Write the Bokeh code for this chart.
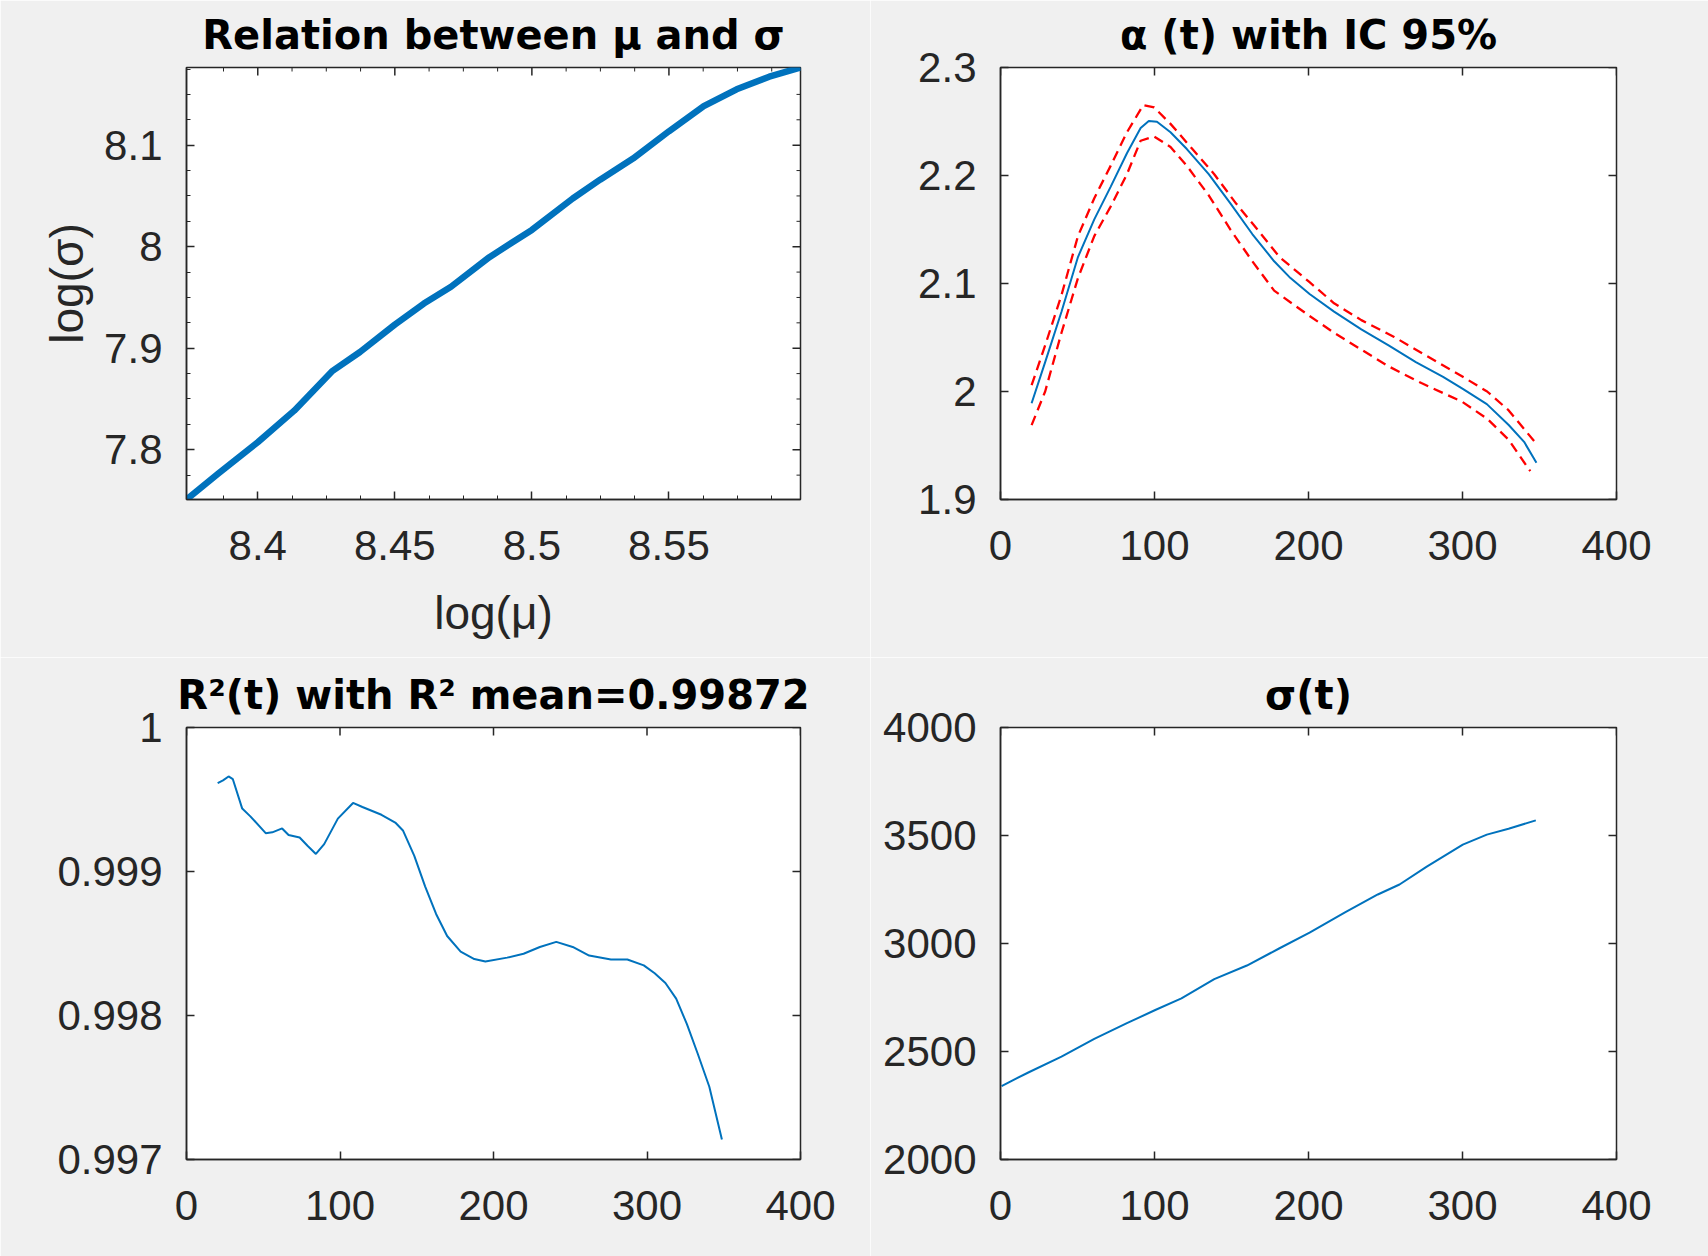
import math
from bokeh.plotting import figure
from bokeh.models import Range1d, FixedTicker
from bokeh.layouts import column, row
from bokeh.embed import file_html
from bokeh.resources import INLINE

FONT = "Liberation Sans"
TITLE_FONT = "DejaVu Sans"
BLUE = "#0072BD"
RED = "#FF0000"
BG = "#F0F0F0"
AX = "#262626"

# ---------------- data ----------------
# Panel 1: log(mu) vs log(sigma)
log_mu = [8.374, 8.3855, 8.4, 8.4133, 8.4273, 8.4373, 8.45, 8.4606, 8.4705, 8.4845,
          8.5, 8.5149, 8.5249, 8.5369, 8.55, 8.5627, 8.5747, 8.5866, 8.598]
log_sigma = [7.751, 7.7764, 7.8074, 7.8385, 7.8777, 7.8963, 7.9232, 7.944, 7.9605, 7.9897,
             8.0165, 8.0475, 8.066, 8.0868, 8.1137, 8.1385, 8.155, 8.1674, 8.1765]
p1_xticks = [8.4, 8.45, 8.5, 8.55]
p1_xlabels = ["8.4", "8.45", "8.5", "8.55"]
p1_yticks = [7.8, 7.9, 8.0, 8.1]
p1_ylabels = ["7.8", "7.9", "8", "8.1"]
p1_xminor = [8.3875, 8.4125, 8.425, 8.4375, 8.4625, 8.475, 8.4875, 8.5125, 8.525,
             8.5375, 8.5625, 8.575, 8.5875]
p1_yminor = [7.775, 7.825, 7.85, 7.875, 7.925, 7.95, 7.975, 8.025, 8.05, 8.075,
             8.125, 8.15, 8.175]

# Panel 2: alpha(t) with 95% CI
t_alpha = [20.2, 29, 39.6, 50.3, 60.9, 71.5, 82.1, 91, 96.3, 101.6, 110.4, 121, 135.2,
           149.4, 163.5, 177.7, 188.3, 200.7, 216.6, 234.3, 252, 269.7, 287.4, 300.2,
           315.8, 330, 340, 348]
alpha_mid = [1.9891, 2.0272, 2.0738, 2.1245, 2.1594, 2.1895, 2.2206, 2.2439, 2.2505, 2.2497,
             2.24, 2.2245, 2.2012, 2.174, 2.1458, 2.1206, 2.105, 2.0903, 2.074, 2.0575,
             2.0427, 2.0272, 2.0136, 2.0025, 1.9883, 1.969, 1.9534, 1.934]
t_alpha_up = [20.2, 29, 39.6, 50.3, 60.9, 71.5, 82.1, 92.7, 99.8, 110.4, 124.6, 138.8, 153,
              167, 181.2, 200.7, 216.6, 234.3, 255.6, 276.8, 300.2, 316, 330, 348]
alpha_up = [2.0058, 2.0427, 2.0893, 2.1439, 2.179, 2.2089, 2.24, 2.2652, 2.263, 2.2478,
            2.2245, 2.2012, 2.174, 2.1497, 2.1245, 2.1012, 2.0817, 2.0661, 2.0505, 2.033,
            2.0136, 2.0, 1.9825, 1.9515]
t_alpha_lo = [20.2, 29, 39.6, 50.3, 60.9, 71.5, 82.1, 91, 99.8, 110.4, 121, 135.2, 149.4,
              163.5, 177.7, 200.7, 216.6, 234.3, 252, 273.3, 300, 316, 330, 344]
alpha_lo = [1.9689, 2.0, 2.0544, 2.105, 2.1439, 2.1712, 2.2012, 2.2322, 2.2361, 2.2264,
            2.2089, 2.1817, 2.1497, 2.1206, 2.0934, 2.0699, 2.0544, 2.0388, 2.0233, 2.0078,
            1.9903, 1.9748, 1.9553, 1.9262]
p2_yticks = [1.9, 2.0, 2.1, 2.2, 2.3]
p2_ylabels = ["1.9", "2", "2.1", "2.2", "2.3"]

# Panel 3: R^2(t)
t_r2 = [20.3, 23.8, 27.4, 30.2, 36.3, 41.6, 51.6, 55.9, 62.3, 66.5, 73.7, 79, 84.3, 89.7,
        98.6, 108.5, 114.6, 127, 136, 141, 148.4, 155.5, 162.6, 169.8, 178.6, 187.5,
        194.7, 208.9, 219.6, 230.2, 240.9, 251.6, 262.3, 276.5, 287.2, 297.9, 305, 312,
        319, 326, 333, 340.6, 348.8]
r2 = [0.999614, 0.999633, 0.99966, 0.999641, 0.999437, 0.999383, 0.999266, 0.999272,
      0.999299, 0.999253, 0.999236, 0.999177, 0.999122, 0.99919, 0.999367, 0.999476,
      0.999448, 0.999394, 0.99934, 0.999285, 0.999109, 0.998895, 0.998705, 0.998552,
      0.998443, 0.998392, 0.998375, 0.998402, 0.998429, 0.998476, 0.998511, 0.998476,
      0.998416, 0.998389, 0.998389, 0.998348, 0.998293, 0.998226, 0.998117, 0.99794,
      0.997736, 0.997505, 0.997139]
p3_yticks = [0.997, 0.998, 0.999, 1.0]
p3_ylabels = ["0.997", "0.998", "0.999", "1"]

# Panel 4: sigma(t)
t_sigma = [0.7, 18.4, 39.6, 60.9, 82.1, 100.5, 117.5, 138.8, 160, 181.2, 200.7, 223.7,
           245, 259.1, 276.8, 300.2, 315.8, 329.9, 347.6]
sigma = [2340, 2404, 2476, 2558, 2631, 2692, 2746, 2835, 2898, 2978, 3050, 3144, 3227,
         3273, 3356, 3458, 3504, 3531, 3570]
p4_yticks = [2000, 2500, 3000, 3500, 4000]
p4_ylabels = ["2000", "2500", "3000", "3500", "4000"]

t_ticks = [0, 100, 200, 300, 400]
t_labels = ["0", "100", "200", "300", "400"]

# ---------------- helpers ----------------
TICK_FS = "42px"
LABEL_FS = "46px"
TITLE_FS = "40px"


def make_fig(title, xr, yr, fw, fh, bl, br, bt, bb):
    p = figure(x_range=xr, y_range=yr, frame_width=fw, frame_height=fh,
               min_border_left=bl, min_border_right=br, min_border_top=bt,
               min_border_bottom=bb, output_backend="svg", toolbar_location=None,
               title=title)
    p.background_fill_color = "white"
    p.border_fill_color = BG
    p.outline_line_color = AX
    p.outline_line_width = 1.5
    p.grid.visible = False
    p.title.text_font = TITLE_FONT
    p.title.text_font_size = TITLE_FS
    p.title.text_font_style = "bold"
    p.title.text_color = "black"
    p.title.align = "center"
    p.title.standoff = 19
    return p


def style_axes(p, xticks, xlabels, yticks, ylabels, xminor=None, yminor=None,
               minor_in=0):
    p.xaxis[0].ticker = FixedTicker(ticks=xticks, minor_ticks=xminor or [])
    p.yaxis[0].ticker = FixedTicker(ticks=yticks, minor_ticks=yminor or [])
    p.xaxis[0].major_label_overrides = {float(k): v for k, v in zip(xticks, xlabels)}
    p.yaxis[0].major_label_overrides = {float(k): v for k, v in zip(yticks, ylabels)}
    for ax in (p.xaxis[0], p.yaxis[0]):
        ax.axis_line_color = AX
        ax.axis_line_width = 1.5
        ax.major_tick_in = 8
        ax.major_tick_out = 0
        ax.minor_tick_in = minor_in
        ax.minor_tick_out = 0
        ax.major_tick_line_color = AX
        ax.minor_tick_line_color = AX
        ax.major_tick_line_width = 1.5
        ax.major_label_text_font = FONT
        ax.major_label_text_font_size = TICK_FS
        ax.major_label_text_color = AX
        ax.axis_label_text_font = FONT
        ax.axis_label_text_font_size = LABEL_FS
        ax.axis_label_text_font_style = "normal"
        ax.axis_label_text_color = AX
    p.xaxis[0].major_label_standoff = 31
    p.yaxis[0].major_label_standoff = 24
    p.xaxis[0].axis_label_standoff = 24
    p.yaxis[0].axis_label_standoff = 8
    # mirrored ticks on top and right edges (MATLAB "box on")
    x1 = p.x_range.end
    y1 = p.y_range.end
    p.ray(x=xticks, y=[y1] * len(xticks), length=8, length_units="screen",
          angle=-math.pi / 2, line_color=AX, line_width=1.5)
    p.ray(x=[x1] * len(yticks), y=yticks, length=8, length_units="screen",
          angle=math.pi, line_color=AX, line_width=1.5)
    if xminor:
        p.ray(x=xminor, y=[y1] * len(xminor), length=minor_in, length_units="screen",
              angle=-math.pi / 2, line_color=AX, line_width=1)
    if yminor:
        p.ray(x=[x1] * len(yminor), y=yminor, length=minor_in, length_units="screen",
              angle=math.pi, line_color=AX, line_width=1)


# ---------------- panel 1 ----------------
p1 = make_fig("Relation between μ and σ",
              Range1d(min(log_mu), max(log_mu)), Range1d(min(log_sigma), max(log_sigma)),
              614, 432, 186, 70, 67, 158)
p1.xaxis[0].axis_label = "log(μ)"
p1.yaxis[0].axis_label = "log(σ)"
style_axes(p1, p1_xticks, p1_xlabels, p1_yticks, p1_ylabels, p1_xminor, p1_yminor,
           minor_in=4)
p1.line(log_mu, log_sigma, line_color=BLUE, line_width=6.5, line_cap="round",
        line_join="round")

# ---------------- panel 2 ----------------
p2 = make_fig("α (t) with IC 95%", Range1d(0, 400), Range1d(1.9, 2.3),
              616, 432, 130, 92, 67, 158)
style_axes(p2, t_ticks, t_labels, p2_yticks, p2_ylabels)
p2.line(t_alpha, alpha_mid, line_color=BLUE, line_width=2)
p2.line(t_alpha_up, alpha_up, line_color=RED, line_width=2.3, line_dash="10 6")
p2.line(t_alpha_lo, alpha_lo, line_color=RED, line_width=2.3, line_dash="10 6")

# ---------------- panel 3 ----------------
p3 = make_fig("R²(t) with R² mean=0.99872", Range1d(0, 400), Range1d(0.997, 1.0),
              614, 432, 186, 70, 70, 97)
style_axes(p3, t_ticks, t_labels, p3_yticks, p3_ylabels)
p3.line(t_r2, r2, line_color=BLUE, line_width=2)

# ---------------- panel 4 ----------------
p4 = make_fig("σ(t)", Range1d(0, 400), Range1d(2000, 4000),
              616, 432, 130, 92, 70, 97)
style_axes(p4, t_ticks, t_labels, p4_yticks, p4_ylabels)
p4.line(t_sigma, sigma, line_color=BLUE, line_width=2)

layout = column(row(p1, p2), row(p3, p4))
open("out.html", "w").write(file_html(layout, INLINE))
